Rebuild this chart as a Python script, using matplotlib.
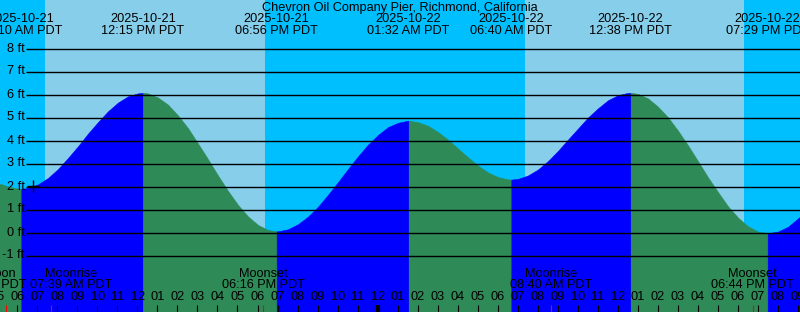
import numpy as np
import pandas as pd
import matplotlib
matplotlib.use('Agg')
import matplotlib.pyplot as plt

plt.rcParams['font.family'] = ['Liberation Sans', 'DejaVu Sans']

title = 'Chevron Oil Company Pier, Richmond, California'
base = pd.Timestamp('2025-10-21 00:00')

# water level (ft) every half hour, from 05:00 oct 21
# to 22:00 oct 22 (hours since 2025-10-21 00:00)
step_start, step_hr = 5.0, 0.5
levels = [2.15, 2.00, 1.91, 1.93, 2.09, 2.37, 2.76, 3.24, 3.75, 4.30,
          4.80, 5.27, 5.65, 5.92, 6.05, 6.05, 5.87, 5.56, 5.09, 4.54,
          3.87, 3.19, 2.48, 1.81, 1.20, 0.70, 0.33, 0.11, 0.05, 0.14,
          0.36, 0.69, 1.12, 1.64, 2.19, 2.76, 3.31, 3.82, 4.24, 4.58,
          4.77, 4.86, 4.80, 4.64, 4.37, 4.04, 3.65, 3.27, 2.91, 2.61,
          2.41, 2.31, 2.33, 2.48, 2.74, 3.11, 3.55, 4.04, 4.52, 5.00,
          5.40, 5.75, 5.97, 6.07, 6.03, 5.83, 5.47, 5.01, 4.43, 3.79,
          3.10, 2.40, 1.76, 1.14, 0.65, 0.27, 0.04, -0.03, 0.04, 0.25,
          0.61, 1.02, 1.55]

# highs and lows
tide_times = ['2025-10-21 06:10', '2025-10-21 12:15', '2025-10-21 18:56',
              '2025-10-22 01:32', '2025-10-22 06:40', '2025-10-22 12:38',
              '2025-10-22 19:29']
tide_levels = [1.9, 6.07, 0.05, 4.86, 2.3, 6.07, -0.03]

# daylight
sunrise = ['2025-10-21 07:21', '2025-10-22 07:22']
sunset = ['2025-10-21 18:21', '2025-10-22 18:19']

# moon events
moon_names = ['New Moon', 'Moonrise', 'Moonset', 'Moonrise', 'Moonset']
moon_times = ['2025-10-21 05:25', '2025-10-21 07:39', '2025-10-21 18:16',
              '2025-10-22 08:40', '2025-10-22 18:44']
moon_label_shift = [-21, 20, 0, 0, 0]  # pixels, labels pushed apart

feet = list(range(-1, 9))


def hrs(s):
    return (pd.Timestamp(s) - base) / pd.Timedelta(hours=1)


W, H = 800, 312
mid_px = 378.0  # pixel column of midnight oct 22
px_per_hr = 20.0
zero_px = 232.5  # pixel row of 0 ft
px_per_ft = 23.0

x0 = 24 - mid_px / px_per_hr
x1 = 24 + (W - mid_px) / px_per_hr
y1 = zero_px / px_per_ft
y0 = -(H - zero_px) / px_per_ft

fig = plt.figure(figsize=(8, 3.12), dpi=100)
ax = fig.add_axes([0, 0, 1, 1])
ax.set_xlim(x0, x1)
ax.set_ylim(y0, y1)
ax.axis('off')

night = '#00bfff'
day = '#87ceeb'
rising = '#0000ff'
falling = '#2e8b57'

ax.axvspan(x0, x1, color=night, lw=0, zorder=0)
for a, b in zip(sunrise, sunset):
    ax.axvspan(hrs(a), hrs(b), color=day, lw=0, zorder=0)

sample_t = [step_start + i * step_hr for i in range(len(levels))]
ev_t = [hrs(s) for s in tide_times]
t_all = np.array(sample_t + ev_t, dtype=float)
h_all = np.array(levels + tide_levels, dtype=float)
order = np.argsort(t_all)
t_all, h_all = t_all[order], h_all[order]

edges = [sample_t[0]] + ev_t + [sample_t[-1]]
for a, b in zip(edges[:-1], edges[1:]):
    m = (t_all >= a) & (t_all <= b)
    tt, hh = t_all[m], h_all[m]
    col = rising if hh[-1] > hh[0] else falling
    ax.fill_between(tt, y0, hh, color=col, lw=0.4, edgecolor=col, zorder=1)

# grid lines with labels
ytr = ax.get_yaxis_transform()
fs = 9.2
for f in feet:
    ax.plot([26 / W, 1], [f, f], color='black', lw=1.0, transform=ytr,
            zorder=3, solid_capstyle='butt')
    ax.text(24.5 / W, f, '%d ft' % f, transform=ytr, ha='right',
            va='center', fontsize=fs, zorder=4)

ax.plot(hrs('2025-10-21 06:46'), 2.02, marker='+', color='black', ms=9,
        mew=1.0, zorder=4)

xtr = ax.get_xaxis_transform()

fig.text(0.5, 1 - 7.5 / H, title, ha='center', va='center', fontsize=fs)
for s in tide_times:
    t = pd.Timestamp(s)
    ax.text(hrs(s), 1 - 19.5 / H, t.strftime('%Y-%m-%d'), transform=xtr,
            ha='center', va='center', fontsize=fs, zorder=5)
    ax.text(hrs(s), 1 - 31.5 / H, t.strftime('%I:%M %p PDT'), transform=xtr,
            ha='center', va='center', fontsize=fs, zorder=5)

# hour ticks and labels
for hr in range(5, 47):
    lw = 3.0 if hr % 24 == 0 else 0.8
    ax.plot([hr - 0.025, hr - 0.025], [0, 7 / H], color='black', lw=lw,
            transform=xtr, zorder=3, solid_capstyle='butt')
    lab = '%02d' % ((hr - 1) % 12 + 1)
    ax.text(hr, 1 - 297.5 / H, lab, transform=xtr, ha='center',
            va='center', fontsize=fs, zorder=5)

for name, s, sh in zip(moon_names, moon_times, moon_label_shift):
    t = hrs(s)
    ax.plot([t, t], [0, 7 / H], color='red', lw=0.8, transform=xtr,
            zorder=4, solid_capstyle='butt')
    tl = t + sh / px_per_hr
    ax.text(tl, 1 - 274 / H, name, transform=xtr, ha='center', va='center',
            fontsize=fs, zorder=5)
    ax.text(tl, 1 - 285.5 / H, pd.Timestamp(s).strftime('%I:%M %p PDT'),
            transform=xtr, ha='center', va='center', fontsize=fs, zorder=5)

fig.savefig('out.png', dpi=100)
